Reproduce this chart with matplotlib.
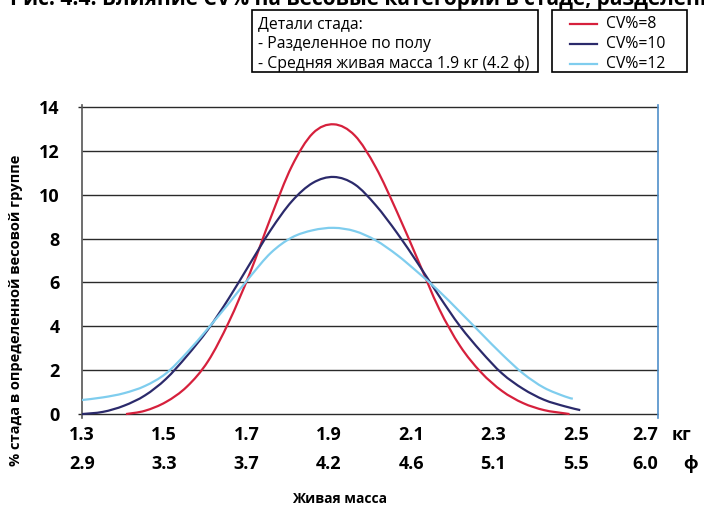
import matplotlib
matplotlib.use('Agg')
import matplotlib.pyplot as plt
from matplotlib.path import Path
from matplotlib.patches import PathPatch, Rectangle
from matplotlib.lines import Line2D

plt.rcParams['font.family'] = ['Open Sans', 'DejaVu Sans']

# Живая масса (кг), точки
kg = [1.300, 1.351, 1.402, 1.453, 1.504, 1.555, 1.606, 1.657, 1.708, 1.759,
      1.810, 1.861, 1.912, 1.963, 2.014, 2.066, 2.117, 2.168, 2.219, 2.270,
      2.321, 2.372, 2.423, 2.474]

cv8_x = [1.407] + kg[3:] + [2.485]
cv8_y = [0.0, 0.15, 0.55, 1.25, 2.4, 4.2, 6.42, 8.97, 11.3, 12.8, 13.21,
         12.7, 11.25, 9.2, 7.0, 4.8, 3.1, 1.9, 1.05, 0.5, 0.18, 0.03, 0.0]

cv10_x = kg + [2.511]
cv10_y = [0.0, 0.1, 0.38, 0.85, 1.6, 2.65, 3.85, 5.28, 6.85, 8.4, 9.7, 10.54,
          10.81, 10.47, 9.52, 8.25, 6.85, 5.38, 4.0, 2.85, 1.85, 1.15, 0.65,
          0.35, 0.18]

cv12_x = kg + [2.493]
cv12_y = [0.64, 0.76, 0.95, 1.28, 1.85, 2.8, 3.9, 5.05, 6.25, 7.35, 8.05,
          8.38, 8.49, 8.34, 7.92, 7.25, 6.45, 5.6, 4.65, 3.68, 2.72, 1.85,
          1.2, 0.8, 0.70]

series_labels = ['CV%=8', 'CV%=10', 'CV%=12']
series_colors = ['#d6203c', '#2b2a6b', '#7fcdee']

tick_kg = [1.3, 1.5, 1.7, 1.9, 2.1, 2.3, 2.5, 2.7]
tick_kg_labels = ['1.3', '1.5', '1.7', '1.9', '2.1', '2.3', '2.5', '2.7']
tick_lb_labels = ['2.9', '3.3', '3.7', '4.2', '4.6', '5.1', '5.5', '6.0']
y_ticks = [0, 2, 4, 6, 8, 10, 12, 14]

box_lines = ['Детали стада:', '- Разделенное по полу',
             '- Средняя живая масса 1.9 кг (4.2 ф)']


# сглаженная линия (как "сглаженная" линия в Excel)
def smooth(xs, ys):
    pts = list(zip(xs, ys))
    verts = [pts[0]]
    codes = [Path.MOVETO]
    n = len(pts)
    for i in range(n - 1):
        p0 = pts[max(i - 1, 0)]
        p1 = pts[i]
        p2 = pts[i + 1]
        p3 = pts[min(i + 2, n - 1)]
        c1 = (p1[0] + (p2[0] - p0[0]) / 6, p1[1] + (p2[1] - p0[1]) / 6)
        c2 = (p2[0] - (p3[0] - p1[0]) / 6, p2[1] - (p3[1] - p1[1]) / 6)
        verts += [c1, c2, p2]
        codes += [Path.CURVE4] * 3
    return Path(verts, codes)


W, H = 704, 508
fig = plt.figure(figsize=(W / 100, H / 100), dpi=100)
ax = fig.add_axes([82 / W, (H - 418) / H, 576 / W, 313.2 / H])
ax.set_xlim(1.3, 2.7)
ax.set_ylim(-0.18, 14.1)

for y in y_ticks:
    x0 = 1.29 if y in (0, 14) else 1.3
    ax.hlines(y, x0, 2.7, color='#2a2a2a', lw=1.0, clip_on=False, zorder=1)

for xs, ys, c in zip([cv8_x, cv10_x, cv12_x], [cv8_y, cv10_y, cv12_y],
                     series_colors):
    ax.add_patch(PathPatch(smooth(xs, ys), fill=False, edgecolor=c, lw=1.6,
                           zorder=3))

ax.spines['top'].set_visible(False)
ax.spines['bottom'].set_visible(False)
ax.spines['left'].set_color('#555555')
ax.spines['right'].set_color('#4f8fca')
ax.spines['left'].set_linewidth(1.2)
ax.spines['right'].set_linewidth(1.2)

ax.set_xticks([])
ax.set_yticks(y_ticks)
ax.set_yticklabels([str(v) for v in y_ticks], fontsize=13, fontweight='bold')
ax.tick_params(axis='y', length=0, pad=16)

tr = ax.get_xaxis_transform()
for x, a, b in zip(tick_kg, tick_kg_labels, tick_lb_labels):
    ha = 'right' if x == tick_kg[-1] else 'center'
    ax.text(x, -0.0543, a, transform=tr, ha=ha, va='center', fontsize=13,
            fontweight='bold', clip_on=False)
    ax.text(x, -0.147, b, transform=tr, ha=ha, va='center', fontsize=13,
            fontweight='bold', clip_on=False)

fig.text(672 / W, 1 - 435 / H, 'кг', ha='left', va='center', fontsize=13,
         fontweight='bold')
fig.text(683 / W, 1 - 464 / H, 'ф', ha='left', va='center', fontsize=13,
         fontweight='bold')

fig.text(16 / W, 1 - 310 / H, '% стада в определенной весовой группе',
         rotation=90, ha='center', va='center', fontsize=10.5,
         fontweight='bold')
fig.text(340 / W, 1 - 499 / H, 'Живая масса', ha='center', va='center',
         fontsize=10, fontweight='bold')

fig.text(10 / W, 1 - 5 / H,
         'Рис. 4.4: Влияние CV% на весовые категории в стаде, разделенном по полу',
         ha='left', va='baseline', fontsize=15, fontweight='bold')

# блок "Детали стада"
fig.add_artist(Rectangle((252 / W, 1 - 72 / H), 286 / W, 62 / H,
                         transform=fig.transFigure, fill=False,
                         edgecolor='black', lw=1.2))
for i, s in enumerate(box_lines):
    fig.text(258 / W, 1 - (24 + 20 * i) / H, s, ha='left', va='center',
             fontsize=11.3)

# легенда
fig.add_artist(Rectangle((552 / W, 1 - 72 / H), 135 / W, 62 / H,
                         transform=fig.transFigure, fill=False,
                         edgecolor='black', lw=1.2))
for i, (lab, c) in enumerate(zip(series_labels, series_colors)):
    yy = 1 - (24 + 20 * i) / H
    fig.add_artist(Line2D([570 / W, 597 / W], [yy, yy], color=c, lw=1.6,
                          transform=fig.transFigure))
    fig.text(606 / W, yy, lab, ha='left', va='center', fontsize=11.3)

fig.savefig('out.png', dpi=100)
